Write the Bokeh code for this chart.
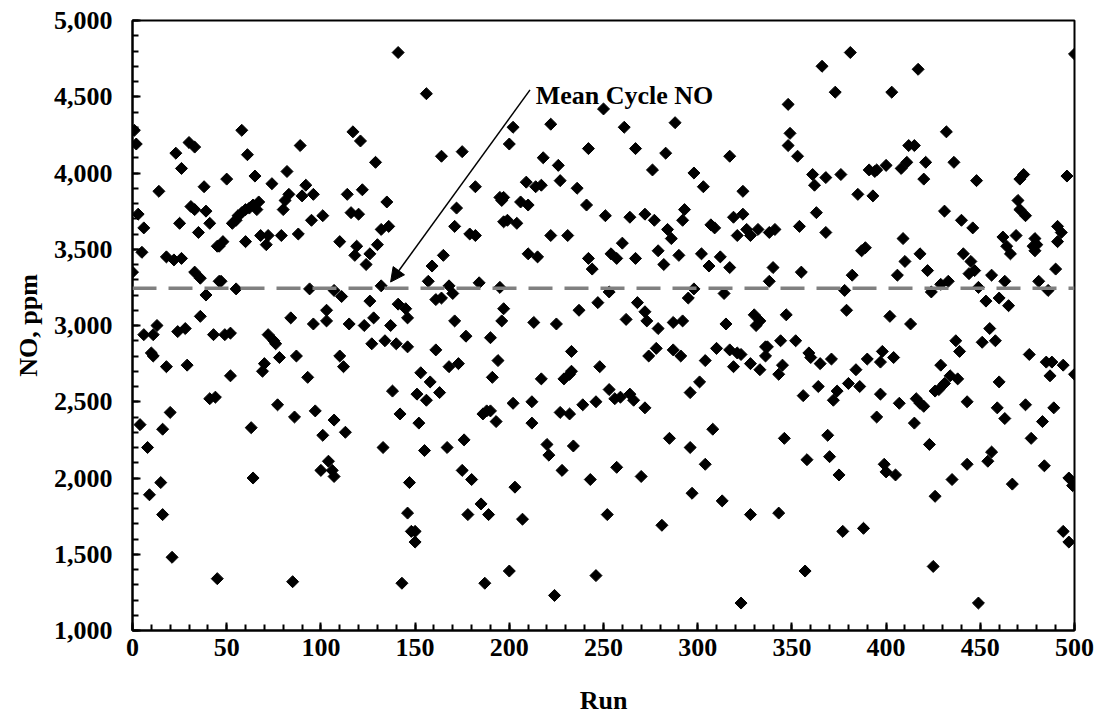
import math
from bokeh.plotting import figure
from bokeh.models import (Range1d, SingleIntervalTicker, NumeralTickFormatter, Span,
                          Arrow, NormalHead, Label, ColumnDataSource)
from bokeh.embed import file_html
from bokeh.resources import INLINE

# ---- data (run number, NO in ppm) ----
runs_a = [1, 2, 23, 30, 33, 26, 14, 38, 3, 6, 31, 33, 39, 25, 41, 35, 45, 5, 18, 22, 26, 0, 33, 36, 46, 39, 36, 13, 11, 6,
          24, 28, 43, 10, 11, 18, 29, 41, 44, 20, 4, 16, 8, 15, 9, 16, 21, 45,
          58, 61, 89, 50, 65, 74, 82, 83, 81, 80, 92, 90, 96, 67, 66, 53, 55, 56, 58, 60, 62, 64, 95, 46, 48, 60, 68, 72,
          71, 79, 88, 47, 55, 94, 84, 96, 49, 52, 72, 75, 76, 78, 87, 70, 69, 52, 93, 77, 86, 97, 63, 64, 85]
no_a = [4280, 4190, 4130, 4200, 4170, 4030, 3880, 3910, 3730, 3640, 3780, 3760, 3750, 3670, 3670, 3610, 3520, 3480, 3450,
        3430, 3440, 3350, 3350, 3310, 3290, 3200, 3060, 3000, 2940, 2940, 2960, 2980, 2940, 2820, 2800, 2730, 2740, 2520,
        2530, 2430, 2350, 2320, 2200, 1970, 1890, 1760, 1480, 1340,
        4280, 4120, 4180, 3960, 3980, 3930, 4010, 3860, 3820, 3760, 3920, 3850, 3860, 3810, 3760, 3670, 3690, 3720, 3740,
        3760, 3770, 3790, 3690, 3520, 3550, 3550, 3590, 3590, 3530, 3590, 3600, 3290, 3240, 3240, 3050, 3010, 2940, 2950,
        2940, 2900, 2880, 2790, 2800, 2750, 2700, 2670, 2660, 2480, 2400, 2440, 2330, 2000, 1320]

runs_b = [141, 117, 121, 129, 114, 122, 135, 101, 110, 116, 120, 132, 136, 119, 118, 126, 124, 130, 132, 107, 111, 126,
          141, 145, 103, 103, 115, 123, 128, 137, 127, 134, 140, 146, 110, 112, 138, 142, 107, 113, 101, 133, 104, 100,
          106, 107, 147, 146, 148, 143,
          156, 164, 175, 182, 172, 171, 179, 182, 195, 196, 197, 165, 159, 157, 168, 170, 164, 161, 184, 195, 146, 171,
          177, 196, 190, 161, 194, 191, 168, 173, 153, 158, 163, 151, 156, 186, 188, 190, 193, 152, 176, 155, 167, 175,
          180, 185, 189, 178, 150, 150, 187]
no_b = [4790, 4270, 4210, 4070, 3860, 3890, 3810, 3720, 3550, 3740, 3730, 3630, 3650, 3520, 3460, 3470, 3400, 3530, 3260,
        3230, 3190, 3160, 3140, 3110, 3100, 3030, 3010, 3000, 3050, 3000, 2880, 2900, 2880, 2860, 2800, 2730, 2570, 2420,
        2380, 2300, 2280, 2200, 2110, 2050, 2050, 2010, 1970, 1770, 1650, 1310,
        4520, 4110, 4140, 3910, 3770, 3650, 3600, 3590, 3840, 3820, 3680, 3460, 3390, 3290, 3260, 3210, 3180, 3170, 3280,
        3250, 3050, 3030, 2930, 3030, 2920, 2840, 2770, 2660, 2730, 2750, 2690, 2630, 2560, 2550, 2510, 2420, 2440, 2440,
        2370, 2360, 2250, 2180, 2200, 2050, 1990, 1830, 1760, 1760, 1650, 1580, 1310]

runs_c = [202, 222, 242, 200, 218, 226, 209, 214, 217, 227, 236, 241, 197, 206, 210, 199, 204, 222, 231, 210, 215, 242,
          244, 197, 213, 225, 237, 247, 233, 217, 229, 232, 233, 248, 202, 212, 227, 232, 239, 246, 212, 220, 221, 234,
          228, 243, 203, 207, 200, 246, 224,
          250, 261, 288, 267, 283, 276, 298, 251, 264, 272, 277, 293, 292, 284, 286, 260, 254, 257, 267, 279, 282, 290,
          298, 253, 268, 295, 262, 272, 273, 279, 287, 292, 278, 274, 287, 291, 253, 256, 259, 264, 266, 272, 296, 285,
          296, 257, 270, 297, 252, 281]
no_c = [4300, 4320, 4160, 4190, 4100, 4050, 3940, 3910, 3920, 3950, 3900, 3790, 3840, 3810, 3790, 3690, 3670, 3590, 3590,
        3470, 3450, 3440, 3370, 3110, 3020, 3010, 3100, 3150, 2830, 2650, 2650, 2680, 2700, 2730, 2490, 2500, 2430, 2420,
        2480, 2500, 2360, 2220, 2150, 2210, 2050, 1990, 1940, 1730, 1390, 1360, 1230,
        4420, 4300, 4330, 4160, 4130, 4020, 4000, 3720, 3710, 3730, 3690, 3760, 3690, 3630, 3570, 3540, 3470, 3440, 3440,
        3490, 3400, 3460, 3240, 3220, 3150, 3180, 3040, 3090, 3030, 2980, 3020, 3030, 2850, 2800, 2840, 2800, 2580, 2520,
        2530, 2550, 2510, 2460, 2560, 2260, 2200, 2070, 2010, 1900, 1760, 1690]

runs_d = [348, 349, 348, 317, 303, 324, 307, 309, 319, 324, 321, 326, 328, 332, 338, 341, 302, 306, 312, 317, 340, 338,
          314, 330, 333, 331, 347, 315, 310, 317, 321, 323, 304, 319, 328, 333, 336, 337, 336, 344, 345, 343, 301, 308,
          304, 346, 313, 328, 343, 323,
          381, 366, 373, 353, 361, 362, 368, 376, 391, 394, 395, 400, 385, 393, 363, 354, 368, 387, 389, 355, 382, 378,
          379, 352, 359, 360, 365, 371, 390, 397, 398, 384, 386, 380, 374, 372, 356, 364, 397, 395, 369, 370, 358, 375,
          377, 388, 357]
no_d = [4450, 4260, 4180, 4110, 3910, 3880, 3660, 3640, 3710, 3730, 3590, 3630, 3590, 3630, 3610, 3630, 3470, 3390, 3450,
        3380, 3380, 3290, 3210, 3070, 3030, 3000, 3070, 3010, 2850, 2840, 2820, 2810, 2770, 2730, 2750, 2710, 2860, 2860,
        2800, 2900, 2740, 2680, 2630, 2320, 2090, 2260, 1850, 1760, 1770, 1180,
        4790, 4700, 4530, 4110, 3990, 3920, 3970, 3990, 4020, 4010, 4020, 4050, 3860, 3850, 3740, 3650, 3610, 3490, 3510,
        3350, 3330, 3230, 3100, 2900, 2820, 2790, 2750, 2780, 2780, 2760, 2830, 2710, 2600, 2620, 2570, 2510, 2540, 2600,
        2550, 2400, 2280, 2140, 2120, 2020, 1650, 1670, 1390]

runs_e = [417, 403, 432, 412, 415, 411, 408, 421, 420, 436, 448, 431, 440, 446, 409, 410, 406, 418, 422, 441, 445, 444,
          447, 429, 433, 424, 449, 402, 413, 437, 439, 404, 429, 434, 438, 431, 428, 426, 443, 407, 416, 418, 420, 415,
          423, 399, 400, 405, 443, 435, 426, 425, 449,
          500, 471, 473, 470, 471, 474, 496, 462, 469, 464, 466, 479, 480, 478, 479, 491, 493, 491, 490, 456, 463, 481,
          486, 453, 460, 465, 455, 451, 458, 476, 485, 488, 487, 494, 500, 460, 459, 463, 474, 489, 483, 477, 456, 454,
          484, 467, 497, 499, 494, 497]
no_e = [4680, 4530, 4270, 4180, 4180, 4070, 4030, 4070, 3960, 4070, 3950, 3750, 3690, 3640, 3570, 3420, 3330, 3470, 3360,
        3470, 3420, 3340, 3360, 3270, 3290, 3220, 3250, 3060, 3010, 2900, 2830, 2790, 2740, 2670, 2650, 2620, 2580, 2570,
        2500, 2490, 2520, 2490, 2470, 2360, 2220, 2090, 2040, 2020, 2090, 1990, 1880, 1420, 1180,
        4780, 3960, 3990, 3820, 3760, 3720, 3980, 3580, 3590, 3520, 3470, 3570, 3530, 3520, 3490, 3650, 3610, 3550, 3370,
        3330, 3290, 3290, 3230, 3160, 3180, 3130, 2980, 2890, 2900, 2810, 2760, 2760, 2670, 2740, 2680, 2630, 2460, 2390,
        2480, 2460, 2370, 2260, 2170, 2110, 2080, 1960, 2000, 1950, 1650, 1580]

MEAN_NO = 3245
ANNOT_TEXT = "Mean Cycle NO"
ANNOT_TEXT_AT = (214, 4510)
ARROW_FROM = (211, 4545)
ARROW_TO = (137, 3285)

x_ticks_interval = 50
y_ticks_interval = 500

runs = runs_a + runs_b + runs_c + runs_d + runs_e
no_ppm = no_a + no_b + no_c + no_d + no_e

FONT = "Liberation Serif"

p = figure(width=1100, height=727, output_backend="svg", toolbar_location=None,
           x_range=Range1d(0, 500), y_range=Range1d(1000, 5000),
           min_border_left=132, min_border_right=26, min_border_top=20, min_border_bottom=97,
           background_fill_color="white", border_fill_color="white")
p.xgrid.visible = False
p.ygrid.visible = False
p.outline_line_color = "black"
p.outline_line_width = 2
p.outline_line_alpha = 1

p.xaxis.ticker = SingleIntervalTicker(interval=x_ticks_interval, num_minor_ticks=5)
p.yaxis.ticker = SingleIntervalTicker(interval=y_ticks_interval, num_minor_ticks=5)
p.yaxis.formatter = NumeralTickFormatter(format="0,0")

for ax in (p.xaxis[0], p.yaxis[0]):
    ax.axis_line_color = "black"
    ax.axis_line_width = 2
    ax.major_tick_in = 8
    ax.major_tick_out = 0
    ax.minor_tick_in = 6
    ax.minor_tick_out = 0
    ax.major_tick_line_color = "black"
    ax.major_tick_line_width = 2
    ax.minor_tick_line_color = "black"
    ax.minor_tick_line_width = 2
    ax.major_label_text_font = FONT
    ax.major_label_text_font_style = "bold"
    ax.major_label_text_font_size = "26px"
    ax.major_label_text_color = "black"
    ax.axis_label_text_font = FONT
    ax.axis_label_text_font_style = "bold"
    ax.axis_label_text_font_size = "26px"
    ax.axis_label_text_color = "black"

p.xaxis.axis_label = "Run"
p.yaxis.axis_label = "NO, ppm"
p.xaxis.major_label_standoff = 8
p.xaxis.axis_label_standoff = 27
p.yaxis.major_label_standoff = 20
p.yaxis.axis_label_standoff = 8

mean_span = Span(location=MEAN_NO, dimension="width", line_color="#808080",
                 line_width=3.5, line_dash="24 12")
p.add_layout(mean_span)

src = ColumnDataSource(dict(run=runs, no=no_ppm))
p.scatter("run", "no", source=src, marker="square", angle=math.pi / 4, size=8.5,
          fill_color="black", line_color="black")

p.add_layout(Arrow(end=NormalHead(size=14, fill_color="black", line_color="black"),
                   x_start=ARROW_FROM[0], y_start=ARROW_FROM[1],
                   x_end=ARROW_TO[0], y_end=ARROW_TO[1],
                   line_color="black", line_width=1.5))
p.add_layout(Label(x=ANNOT_TEXT_AT[0], y=ANNOT_TEXT_AT[1], text=ANNOT_TEXT,
                   text_font=FONT, text_font_style="bold", text_font_size="26px",
                   text_baseline="middle", text_align="left", text_color="black"))

open("out.html", "w").write(file_html(p, INLINE))
